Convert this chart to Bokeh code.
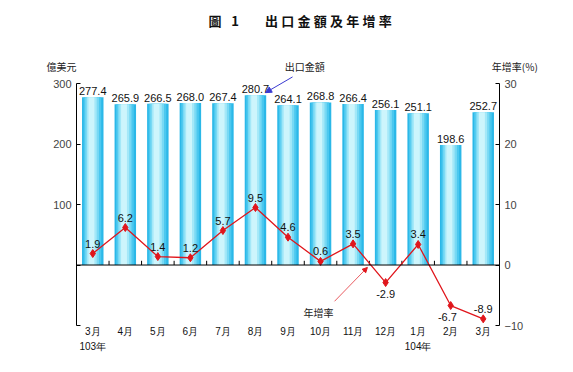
from bokeh.plotting import figure
from bokeh.models import (ColumnDataSource, Range1d, LinearAxis, FixedTicker, Span,
                          Label, Arrow, NormalHead, Title)
from bokeh.transform import dodge
from bokeh.embed import file_html
from bokeh.resources import INLINE

months = ["3月", "4月", "5月", "6月", "7月", "8月", "9月", "10月", "11月",
          "12月", "1月", "2月", "3月"]
years = {0: "103年", 10: "104年"}
exports = [277.4, 265.9, 266.5, 268.0, 267.4, 280.7, 264.1, 268.8, 266.4, 256.1,
           251.1, 198.6, 252.7]
growth = [1.9, 6.2, 1.4, 1.2, 5.7, 9.5, 4.6, 0.6, 3.5, -2.9, 3.4, -6.7, -8.9]
left_ticks = [-100, 0, 100, 200, 300]
right_ticks = [-10, 0, 10, 20, 30]

idx = list(range(len(months)))
src = ColumnDataSource(dict(
    x=idx, exports=exports, growth=growth,
    elab=[f"{v:.1f}" for v in exports],
    glab=[f"{v:.1f}" for v in growth],
))

NUM = "Liberation Sans"
CJK = "Noto Sans CJK TC"
HEAD = 1.05  # extra headroom above the axis top, as a fraction

p = figure(width=557, height=356, output_backend="svg", toolbar_location=None,
           x_range=Range1d(-0.5, len(months) - 0.5),
           y_range=Range1d(left_ticks[0], left_ticks[-1] * HEAD),
           min_border_left=76, min_border_right=58, min_border_top=74,
           min_border_bottom=31, border_fill_color="white")
p.extra_y_ranges = {"rate": Range1d(right_ticks[0], right_ticks[-1] * HEAD)}
p.outline_line_color = None
p.xgrid.visible = False
p.ygrid.visible = False

# bars with a cylinder-like gradient made of layered bars
layers = [(0.66, "#2BB8E8", 0.0), (0.54, "#4CC8EF", -0.01), (0.42, "#78D9F4", -0.02),
          (0.30, "#A4E8F8", -0.03), (0.18, "#CDF5FC", -0.04)]
for w, c, sh in layers:
    p.vbar(x=dodge("x", sh, range=p.x_range), top="exports", bottom=0, width=w,
           source=src, fill_color=c, line_color=None)

p.text(x="x", y="exports", text="elab", source=src, text_align="center",
       text_baseline="bottom", y_offset=-2, text_font_size="11px",
       text_font={"value": NUM}, text_color="#111111")

# zero line with small ticks between categories
p.add_layout(Span(location=0, dimension="width", line_color="black", line_width=1))
bx = [i + 0.5 for i in idx[:-1]]
p.segment(x0=bx, y0=[0] * len(bx), x1=bx, y1=[7] * len(bx), line_color="black",
          line_width=1)

# growth line
p.line(x="x", y="growth", source=src, y_range_name="rate", line_color="#E0161C",
       line_width=1.3)
p.scatter(x="x", y="growth", source=src, y_range_name="rate", marker="diamond",
          size=8, fill_color="#E0161C", line_color="#E0161C")

below = {9, 11}
for i, (g, t) in enumerate(zip(growth, src.data["glab"])):
    if i in below:
        p.add_layout(Label(x=i - (0.1 if i == 11 else 0), y=g, y_range_name="rate",
                           text=t, text_align="center", text_baseline="top",
                           y_offset=-7, text_font_size="11px", text_font=NUM,
                           text_color="#111111"))
    else:
        p.add_layout(Label(x=i, y=g, y_range_name="rate", text=t,
                           text_align="center", text_baseline="bottom", y_offset=6,
                           text_font_size="11px", text_font=NUM,
                           text_color="#111111"))

# axes
p.xaxis.ticker = FixedTicker(ticks=idx)
p.xaxis.major_label_overrides = {i: m for i, m in zip(idx, months)}
p.xaxis.axis_line_color = None
p.xaxis.major_tick_line_color = None
p.xaxis.minor_tick_line_color = None
p.xaxis.major_tick_in = 0
p.xaxis.major_tick_out = 0
p.xaxis.minor_tick_out = 0
p.xaxis.major_label_text_font = NUM
p.xaxis.major_label_text_font_size = "10px"
p.xaxis.major_label_text_color = "#111111"
p.xaxis.major_label_standoff = 0

ya = LinearAxis(ticker=FixedTicker(ticks=list(years.keys())),
                major_label_overrides=years, axis_line_color=None,
                major_tick_line_color=None, minor_tick_line_color=None,
                major_tick_in=0, major_tick_out=0, minor_tick_out=0,
                major_label_text_font=NUM, major_label_text_font_size="10px",
                major_label_text_color="#111111", major_label_standoff=1)
p.add_layout(ya, "below")

p.yaxis.ticker = FixedTicker(ticks=left_ticks)
p.yaxis.bounds = (left_ticks[0], left_ticks[-1])
p.yaxis.major_label_overrides = {left_ticks[0]: "", 0: ""}
p.yaxis.minor_tick_line_color = None
p.yaxis.major_tick_in = 4
p.yaxis.major_tick_out = 0
p.yaxis.major_label_text_font = NUM
p.yaxis.major_label_text_font_size = "11px"
p.yaxis.major_label_standoff = 5
p.yaxis.axis_line_color = "black"

ra = LinearAxis(y_range_name="rate", ticker=FixedTicker(ticks=right_ticks),
                bounds=(right_ticks[0], right_ticks[-1]))
ra.minor_tick_line_color = None
ra.major_tick_in = 4
ra.major_tick_out = 0
ra.major_label_text_font = NUM
ra.major_label_text_font_size = "11px"
ra.major_label_standoff = 5
p.add_layout(ra, "right")

# unit labels row, a blank spacer row, and the main title (outside the frame)
unit_row = ("億美元" + "\u3000" * 20 + "\u2002\u2004" + "出口金額"
            + "\u3000" * 16 + "\u2002\u2009" + "年增率(%)")
p.add_layout(Title(text=unit_row, align="left", offset=-30, standoff=2,
                   text_font=CJK, text_font_size="10px", text_font_style="normal",
                   text_color="#222222"), "above")
p.add_layout(Title(text="\u3000", align="left", standoff=2, text_font=CJK,
                   text_font_size="10px", text_color="#222222"), "above")
main = "圖\u2002\u20051\u3000\u3000" + "\u2005".join("出口金額及年增率")
p.add_layout(Title(text=main, align="left", offset=132, standoff=14,
                   text_font=CJK, text_font_size="13px", text_font_style="bold",
                   text_color="#111111"), "above")

# arrows and in-frame annotation
p.add_layout(Arrow(x_start=6.14, y_start=311, x_end=5.31, y_end=285,
                   line_color="#3A3AD0", line_width=1,
                   end=NormalHead(size=6, fill_color="#3A3AD0", line_color="#3A3AD0")))
p.add_layout(Label(x=6.94, y=-78, text="年增率", text_align="center",
                   text_baseline="middle", text_font=CJK, text_font_size="10px",
                   text_color="#222222"))
p.add_layout(Arrow(x_start=7.43, y_start=-60, x_end=8.44, y_end=-4,
                   line_color="#E0161C", line_width=0.7,
                   end=NormalHead(size=5, fill_color="#E0161C", line_color="#E0161C")))

open("out.html", "w").write(file_html(p, INLINE))
